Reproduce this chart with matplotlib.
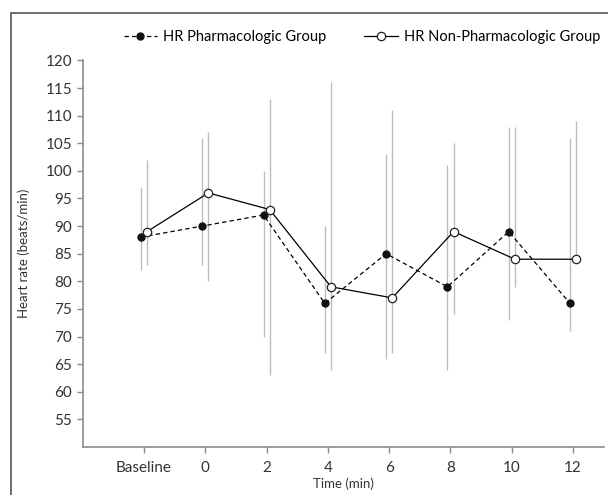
import matplotlib
matplotlib.use("Agg")
import matplotlib.pyplot as plt
import matplotlib.patches as mpatches
import numpy as np

plt.rcParams['font.family'] = ['Lato', 'DejaVu Sans']

labels = ['Baseline', '0', '2', '4', '6', '8', '10', '12']

pharm = [88, 90, 92, 76, 85, 79, 89, 76]
pharm_lo = [82, 83, 70, 67, 66, 64, 73, 71]
pharm_hi = [97, 106, 100, 90, 103, 101, 108, 106]

nonpharm = [89, 96, 93, 79, 77, 89, 84, 84]
nonpharm_lo = [83, 80, 63, 64, 67, 74, 79, 84]
nonpharm_hi = [102, 107, 113, 116, 111, 105, 108, 109]

fig = plt.figure(figsize=(6.08, 4.95), dpi=100)
ax = fig.add_axes([0.136, 0.097, 0.857, 0.781])

ind = np.arange(len(labels))
off = 0.05
grey = '#bdbdbd'

# error ranges drawn as plain grey lines, no caps
ax.vlines(ind - off, pharm_lo, pharm_hi, color=grey, lw=1.0, zorder=1)
ax.vlines(ind + off, nonpharm_lo, nonpharm_hi, color=grey, lw=1.0, zorder=1)

l1, = ax.plot(ind - off, pharm, color='black', ls=(0, (3.5, 2.5)), lw=0.9,
              marker='o', ms=5, mfc='#111111', mec='#111111', zorder=3)
l2, = ax.plot(ind + off, nonpharm, color='black', ls='-', lw=0.9,
              marker='o', ms=6, mfc='white', mec='#222222', mew=0.9, zorder=4)

ax.set_xlim(-1, 7.5)
ax.set_ylim(50, 120)
ax.set_xticks(ind)
ax.set_xticklabels(labels)
ax.set_yticks(np.arange(55, 121, 5))

for s in ['top', 'right']:
    ax.spines[s].set_visible(False)
for s in ['left', 'bottom']:
    ax.spines[s].set_color('#8c8c8c')
    ax.spines[s].set_linewidth(1.2)
ax.tick_params(axis='both', colors='#8c8c8c', length=4, width=1,
               labelcolor='#333333', labelsize=11)
ax.tick_params(axis='x', pad=6)

ax.set_ylabel('Heart rate (beats/min)', fontsize=9.5, color='#333333', labelpad=11)
ax.set_xlabel('Time (min)', fontsize=9.5, color='#333333', labelpad=2)

fig.legend([l1, l2], ['HR Pharmacologic Group', 'HR Non-Pharmacologic Group'],
           loc='center', bbox_to_anchor=(0.595, 0.925), ncol=2, frameon=False,
           fontsize=10.5, handlelength=2.3, columnspacing=2.6, handletextpad=0.4)

# outer border of the chart (only top and left are inside the picture)
fig.patches.append(mpatches.Rectangle((11 / 608, -0.1), 1.2, 1.1 - 13 / 495,
                                      transform=fig.transFigure, fill=False,
                                      edgecolor='#555555', lw=1.2))

fig.savefig('out.png', dpi=100)
